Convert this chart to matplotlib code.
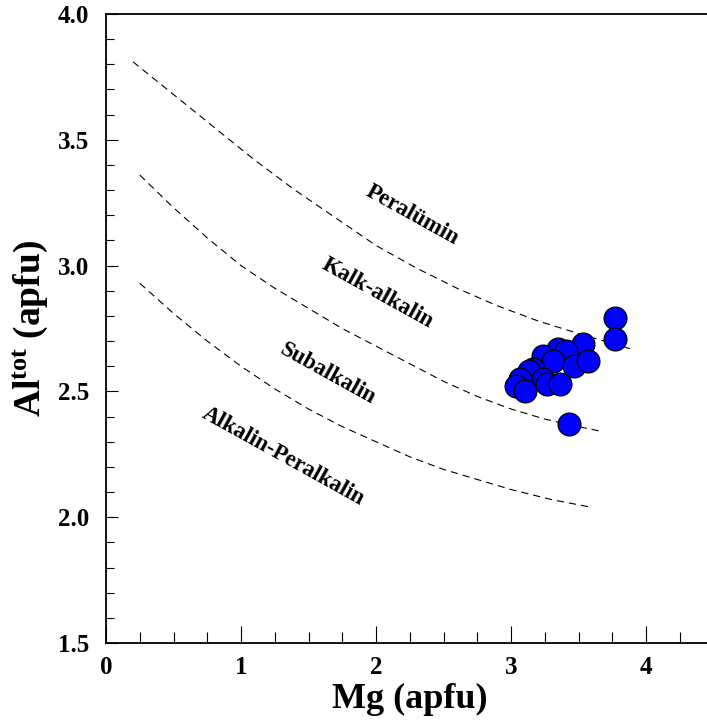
import numpy as np
import matplotlib
matplotlib.use("Agg")
import matplotlib.pyplot as plt
from matplotlib.ticker import MultipleLocator

plt.rcParams['font.family'] = ['Liberation Serif', 'DejaVu Serif']
plt.rcParams['font.weight'] = 'bold'
plt.rcParams['mathtext.fontset'] = 'custom'
plt.rcParams['mathtext.rm'] = 'Liberation Serif:bold'
plt.rcParams['mathtext.default'] = 'rm'

# boundary curves (Mg, Al_tot)
curve1_x = [0.20, 0.50, 0.80, 1.10, 1.40, 1.70, 2.00, 2.30, 2.60, 2.90, 3.20, 3.50, 3.88]
curve1_y = [3.81, 3.68, 3.55, 3.42, 3.30, 3.19, 3.08, 2.99, 2.91, 2.84, 2.78, 2.73, 2.67]
curve2_x = [0.25, 0.50, 0.75, 1.00, 1.25, 1.50, 1.75, 2.00, 2.25, 2.50, 2.75, 3.00, 3.25, 3.50, 3.68]
curve2_y = [3.36, 3.23, 3.11, 3.00, 2.91, 2.83, 2.75, 2.68, 2.61, 2.54, 2.48, 2.43, 2.39, 2.36, 2.34]
curve3_x = [0.25, 0.50, 0.75, 1.00, 1.25, 1.50, 1.75, 2.00, 2.25, 2.50, 2.75, 3.00, 3.30, 3.59]
curve3_y = [2.93, 2.81, 2.70, 2.60, 2.51, 2.43, 2.36, 2.30, 2.24, 2.19, 2.15, 2.11, 2.07, 2.04]

# biotite analyses
mg = [3.77, 3.77, 3.53, 3.35, 3.41, 3.24, 3.31, 3.47, 3.57, 3.16, 3.13,
      3.24, 3.27, 3.36, 3.07, 3.04, 3.10, 3.43]
al = [2.79, 2.71, 2.69, 2.67, 2.66, 2.64, 2.62, 2.60, 2.62, 2.59, 2.58,
      2.55, 2.53, 2.53, 2.55, 2.52, 2.50, 2.37]

field_names = ["Peralümin", "Kalk-alkalin", "Subalkalin", "Alkalin-Peralkalin"]
field_x = [2.27, 2.01, 1.64, 1.31]
field_y = [3.20, 2.89, 2.57, 2.24]

W, H = 707, 724
fig = plt.figure(figsize=(W / 100, H / 100), dpi=100)
ax = fig.add_axes([106 / W, 81 / H, 607.5 / W, 629 / H])

dash = dict(color='black', lw=0.8, ls=(0, (6.5, 4.5)))
ax.plot(curve1_x, curve1_y, **dash)
ax.plot(curve2_x, curve2_y, **dash)
ax.plot(curve3_x, curve3_y, **dash)

ax.scatter(mg, al, s=270, c='#0000ff', edgecolors='black', linewidths=0.9, zorder=3)

for name, x, y in zip(field_names, field_x, field_y):
    ax.text(x, y, name, rotation=-29, rotation_mode='anchor', ha='center', va='center',
            fontsize=16.5, fontweight='bold')

ax.set_xlim(0, 4.5)
ax.set_ylim(1.5, 4.0)
ax.xaxis.set_major_locator(MultipleLocator(1))
ax.xaxis.set_minor_locator(MultipleLocator(0.25))
ax.yaxis.set_major_locator(MultipleLocator(0.5))
ax.yaxis.set_minor_locator(MultipleLocator(0.1))
ax.xaxis.set_major_formatter(plt.FuncFormatter(lambda v, p: f"{v:.0f}"))
ax.yaxis.set_major_formatter(plt.FuncFormatter(lambda v, p: f"{v:.1f}"))

ax.tick_params(axis='x', which='major', direction='in', length=12, width=0.8, pad=9, labelsize=18)
ax.tick_params(axis='x', which='minor', direction='in', length=8, width=0.8)
ax.tick_params(axis='y', which='major', direction='in', length=8.5, width=0.8, pad=12, labelsize=18)
ax.tick_params(axis='y', which='minor', direction='in', length=5.5, width=0.8)
for lab in ax.get_xticklabels() + ax.get_yticklabels():
    lab.set_fontweight('bold')

for s in ['left', 'bottom', 'top']:
    ax.spines[s].set_linewidth(1.3)

ax.set_xlabel("Mg (apfu)", fontsize=26, fontweight='bold', labelpad=3)
ax.set_ylabel("Al$^{\\rm tot}$ (apfu)", fontsize=27, fontweight='bold', labelpad=6)

fig.savefig("out.png", dpi=100)
